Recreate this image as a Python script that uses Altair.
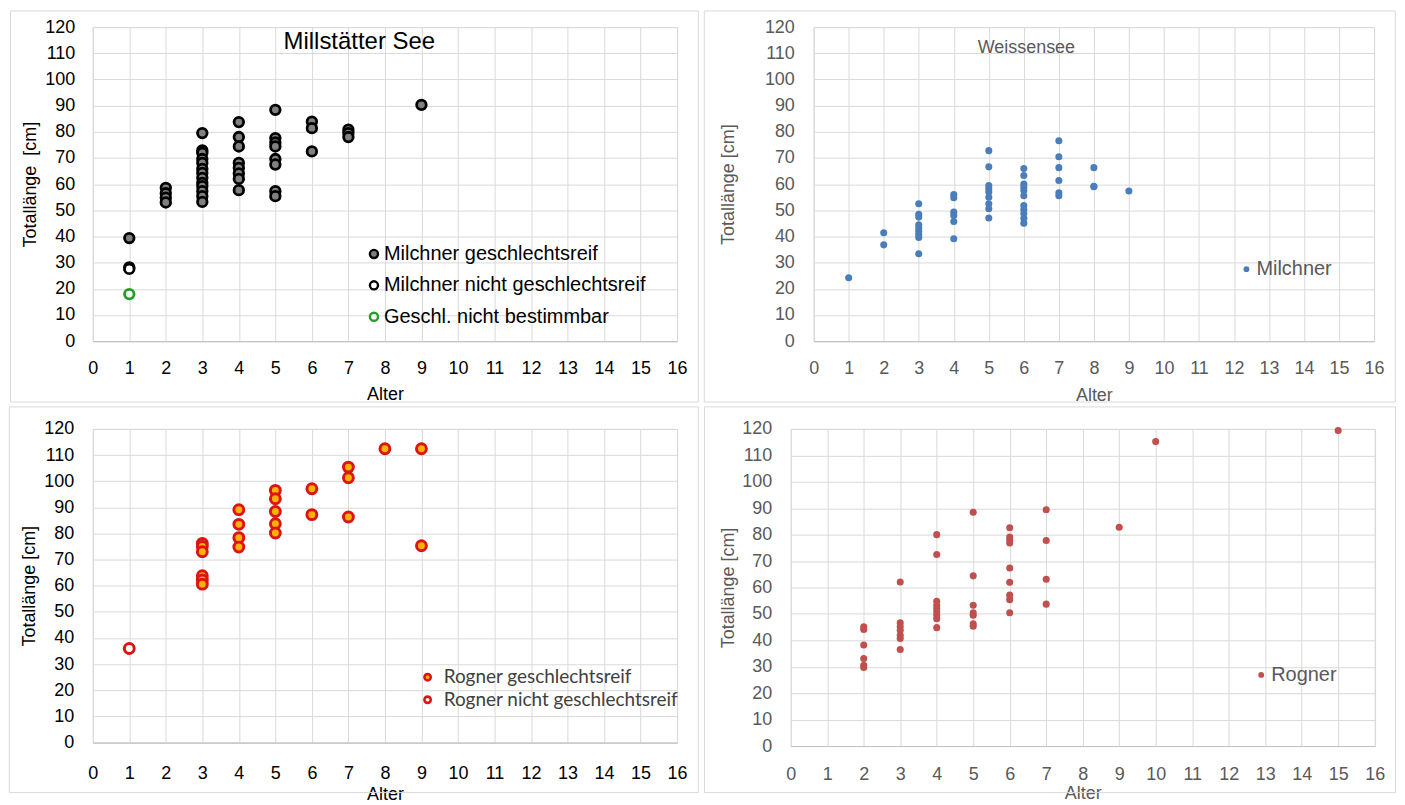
import altair as alt
import pandas as pd

# ---------------- data ----------------
X_TICKS = [0, 1, 2, 3, 4, 5, 6, 7, 8, 9, 10, 11, 12, 13, 14, 15, 16]
Y_TICKS = [0, 10, 20, 30, 40, 50, 60, 70, 80, 90, 100, 110, 120]

# Millstätter See – Milchner
A_groups = ["Milchner geschlechtsreif", "Milchner nicht geschlechtsreif", "Geschl. nicht bestimmbar"]
A_reif_x = [1, 2, 2, 2, 2,
            3, 3, 3, 3, 3, 3, 3, 3, 3, 3, 3, 3, 3,
            4, 4, 4, 4, 4, 4, 4, 4,
            5, 5, 5, 5, 5, 5, 5, 5,
            6, 6, 6, 7, 7, 7, 9]
A_reif_y = [39.4, 58.6, 56.5, 54.8, 53.0,
            79.5, 72.9, 71.9, 69.6, 68.1, 65.8, 64.3, 62.4, 60.5, 59.2, 57.3, 55.4, 53.2,
            83.7, 78.0, 74.4, 68.1, 66.2, 64.1, 62.0, 57.7,
            88.4, 77.6, 75.9, 74.4, 69.6, 67.5, 57.3, 55.4,
            83.9, 81.4, 72.5, 80.8, 79.5, 78.0, 90.3]
A_nicht_x = [1, 1]
A_nicht_y = [28.2, 27.6]
A_unbest_x = [1]
A_unbest_y = [18.0]
A_title = "Millstätter See"

# Weissensee – Milchner
B_groups = ["Milchner"]
B_x = [1, 2, 2,
       3, 3, 3, 3, 3, 3, 3, 3, 3,
       4, 4, 4, 4, 4, 4,
       5, 5, 5, 5, 5, 5, 5, 5, 5,
       6, 6, 6, 6, 6, 6, 6, 6, 6, 6, 6,
       7, 7, 7, 7, 7, 7,
       8, 8, 8, 9]
B_y = [24.2, 41.4, 36.8,
       52.5, 48.5, 47.4, 44.5, 43.2, 42.0, 40.8, 39.6, 33.4,
       56.0, 54.8, 49.3, 48.0, 45.7, 39.1,
       72.8, 66.6, 59.5, 58.3, 57.0, 55.0, 52.5, 50.6, 47.1,
       66.0, 63.3, 60.0, 58.8, 57.6, 55.6, 51.8, 50.3, 48.8, 47.0, 45.1,
       76.6, 70.5, 66.3, 61.4, 56.7, 55.6,
       66.3, 59.2, 59.0, 57.4]
B_title = "Weissensee"

# Millstätter See – Rogner
C_groups = ["Rogner geschlechtsreif", "Rogner nicht geschlechtsreif"]
C_reif_x = [3, 3, 3, 3, 3, 3,
            4, 4, 4, 4,
            5, 5, 5, 5, 5,
            6, 6, 7, 7, 7, 8, 9, 9]
C_reif_y = [76.2, 75.0, 73.0, 63.8, 62.2, 60.6,
            89.1, 83.5, 78.4, 74.8,
            96.5, 93.3, 88.4, 83.7, 80.2,
            97.1, 87.2, 105.4, 101.3, 86.3, 112.4, 112.4, 75.3]
C_nicht_x = [1]
C_nicht_y = [36.0]

# Weissensee – Rogner
D_groups = ["Rogner"]
D_x = [2, 2, 2, 2, 2, 2,
       3, 3, 3, 3, 3, 3, 3,
       4, 4, 4, 4, 4, 4, 4, 4, 4,
       5, 5, 5, 5, 5, 5, 5,
       6, 6, 6, 6, 6, 6, 6, 6, 6,
       7, 7, 7, 7, 9, 10, 15]
D_y = [45.1, 44.1, 38.2, 33.1, 30.6, 29.7,
       62.1, 46.6, 45.1, 43.8, 41.9, 40.7, 36.5,
       80.0, 72.5, 54.8, 53.3, 52.0, 50.8, 49.5, 48.2, 44.8,
       88.5, 64.4, 53.3, 50.4, 49.5, 46.3, 45.3,
       82.6, 79.1, 78.1, 76.8, 67.4, 62.0, 57.1, 55.4, 50.4,
       89.4, 77.8, 63.1, 53.7, 82.8, 115.2, 119.4]

# ---------------- styling ----------------
FONT = "Liberation Sans"
GRID = "#d9d9d9"
GRAYTXT = "#595959"
BORDER = "#d9d9d9"

dfA = pd.DataFrame({
    "Alter": A_reif_x + A_nicht_x + A_unbest_x,
    "Laenge": A_reif_y + A_nicht_y + A_unbest_y,
    "Gruppe": [A_groups[0]] * len(A_reif_x) + [A_groups[1]] * len(A_nicht_x) + [A_groups[2]] * len(A_unbest_x),
})
dfB = pd.DataFrame({"Alter": B_x, "Laenge": B_y, "Gruppe": B_groups * len(B_x)})
dfC = pd.DataFrame({
    "Alter": C_reif_x + C_nicht_x,
    "Laenge": C_reif_y + C_nicht_y,
    "Gruppe": [C_groups[0]] * len(C_reif_x) + [C_groups[1]] * len(C_nicht_x),
})
dfD = pd.DataFrame({"Alter": D_x, "Laenge": D_y, "Gruppe": D_groups * len(D_x)})


def axes(color, ylp, ytp, xlp, xtp, ytitle):
    xax = alt.Axis(values=X_TICKS, title="Alter", grid=True, gridColor=GRID, ticks=False,
                   domainColor="#bfbfbf", labelFont=FONT, labelFontSize=18, labelColor=color,
                   labelPadding=xlp, labelFlush=False, labelOverlap=False, labelAngle=0,
                   titleFont=FONT, titleFontSize=18, titleFontWeight="normal", titleColor=color,
                   titlePadding=xtp)
    yax = alt.Axis(values=Y_TICKS, title=ytitle, grid=True, gridColor=GRID, ticks=False,
                   domain=False, labelFont=FONT, labelFontSize=18, labelColor=color,
                   labelPadding=ylp, labelOverlap=False,
                   titleFont=FONT, titleFontSize=18, titleFontWeight="normal", titleColor=color,
                   titlePadding=ytp)
    return xax, yax


def border(L, R, T, B):
    return alt.Chart(pd.DataFrame({"d": [0]})).mark_rect(
        fillOpacity=0, stroke=BORDER, strokeWidth=1
    ).encode(x=alt.value(L), x2=alt.value(R), y=alt.value(T), y2=alt.value(B))


def title_text(txt, x, y, color, size):
    return alt.Chart(pd.DataFrame({"t": [txt]})).mark_text(
        font=FONT, fontSize=size, color=color, align="center", baseline="middle"
    ).encode(x=alt.value(x), y=alt.value(y), text="t:N")


XS = alt.Scale(domain=[0, 16], nice=False)
YS = alt.Scale(domain=[0, 120], nice=False)

# ---- Panel A ----
xa, ya = axes("#000000", 18, 5, 18, 8, "Totallänge\u00a0 [cm]")
legA = alt.Legend(title=None, orient="none", legendX=272, legendY=217.5, padding=0,
                  rowPadding=11.5, labelFont=FONT, labelFontSize=20, labelColor="#000000",
                  symbolSize=66, symbolStrokeWidth=2.4, labelOffset=0, labelLimit=0,
                  symbolType="circle")
ptsA = alt.Chart(dfA).mark_point(shape="circle", size=92, strokeWidth=2.8, opacity=1, fillOpacity=1).encode(
    x=alt.X("Alter:Q", scale=XS, axis=xa),
    y=alt.Y("Laenge:Q", scale=YS, axis=ya),
    fill=alt.Fill("Gruppe:N", scale=alt.Scale(domain=A_groups, range=["#808080", "#ffffff", "#ffffff"]), legend=legA),
    stroke=alt.Stroke("Gruppe:N", scale=alt.Scale(domain=A_groups, range=["#000000", "#000000", "#22a022"]), legend=legA),
)
panelA = alt.layer(border(-82.5, 607.3, -16.2, 376), ptsA,
                   title_text(A_title, 267.3, 14.8, "#000000", 24)).properties(width=586, height=315)

# ---- Panel B ----
xb, yb = axes(GRAYTXT, 19.4, 26.6, 18, 9, "Totallänge [cm]")
legB = alt.Legend(title=None, orient="none", legendX=424, legendY=232.8, padding=0,
                  labelFont=FONT, labelFontSize=20, labelColor=GRAYTXT, symbolSize=34,
                  labelOffset=0, labelLimit=0, symbolType="circle")
ptsB = alt.Chart(dfB).mark_circle(size=50, opacity=1).encode(
    x=alt.X("Alter:Q", scale=XS, axis=xb),
    y=alt.Y("Laenge:Q", scale=YS, axis=yb),
    color=alt.Color("Gruppe:N", scale=alt.Scale(domain=B_groups, range=["#4a7ebb"]), legend=legB),
)
panelB = alt.layer(border(-109.7, 583.3, -16.2, 376), ptsB,
                   title_text(B_title, 213.3, 20.8, GRAYTXT, 18)).properties(width=562, height=315)

# ---- Panel C ----
xc, yc = axes("#000000", 19, 5, 22, 3, "Totallänge [cm]")
legC = alt.Legend(title=None, orient="none", legendX=326.3, legendY=239.5, padding=0,
                  rowPadding=2.6, labelFont="Lato", labelFontSize=19, labelColor="#404040",
                  symbolSize=40, symbolStrokeWidth=2.6, labelOffset=6.6, labelLimit=0,
                  symbolType="circle")
ptsC = alt.Chart(dfC).mark_point(shape="circle", size=98, strokeWidth=3, opacity=1, fillOpacity=1).encode(
    x=alt.X("Alter:Q", scale=XS, axis=xc),
    y=alt.Y("Laenge:Q", scale=YS, axis=yc),
    fill=alt.Fill("Gruppe:N", scale=alt.Scale(domain=C_groups, range=["#ffb300", "#ffffff"]), legend=legC),
    stroke=alt.Stroke("Gruppe:N", scale=alt.Scale(domain=C_groups, range=["#dc1414", "#dc1414"]), legend=legC),
)
panelC = alt.layer(border(-83.7, 607.3, -22.1, 364.7), ptsC).properties(width=586, height=314.5)

# ---- Panel D ----
xd, yd = axes(GRAYTXT, 19, 4.5, 20, 1, "Totallänge [cm]")
legD = alt.Legend(title=None, orient="none", legendX=461.8, legendY=236.7, padding=0,
                  labelFont=FONT, labelFontSize=20, labelColor=GRAYTXT, symbolSize=34,
                  labelOffset=0, labelLimit=0, symbolType="circle")
ptsD = alt.Chart(dfD).mark_circle(size=50, opacity=1).encode(
    x=alt.X("Alter:Q", scale=XS, axis=xd),
    y=alt.Y("Laenge:Q", scale=YS, axis=yd),
    color=alt.Color("Gruppe:N", scale=alt.Scale(domain=D_groups, range=["#c0504d"]), legend=legD),
)
panelD = alt.layer(border(-86.5, 606.5, -22.1, 364.7), ptsD).properties(width=585.6, height=318)

row1 = alt.hconcat(panelA, panelB, spacing=3).resolve_scale(
    fill="independent", stroke="independent", color="independent", x="independent", y="independent"
).resolve_legend(fill="independent", stroke="independent", color="independent")
row2 = alt.hconcat(panelC, panelD, spacing=3).resolve_scale(
    fill="independent", stroke="independent", color="independent", x="independent", y="independent"
).resolve_legend(fill="independent", stroke="independent", color="independent")

chart = alt.vconcat(row1, row2, spacing=0).resolve_scale(
    fill="independent", stroke="independent", color="independent", x="independent", y="independent"
).resolve_legend(fill="independent", stroke="independent", color="independent").properties(
    padding=0, background="#ffffff"
).configure_view(stroke=GRID)

chart.save("out.html", embed_options={"renderer": "svg", "actions": False})
